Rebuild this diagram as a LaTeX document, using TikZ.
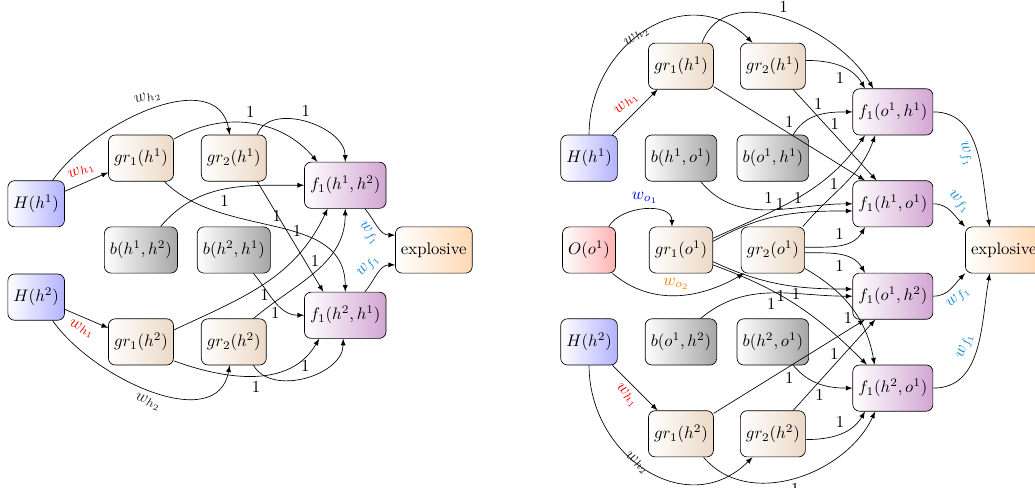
\documentclass[tikz,border=0pt]{standalone}
\usetikzlibrary{arrows}
\tikzset{
	unit/.style    = {shape=rectangle, rounded corners,
		draw, anchor=center,
		minimum height=0.97cm, inner sep=0.3333em,
		left color=white},
	human/.style   = {unit, right color=blue!30},
	object/.style  = {unit, right color=red!30},
	grasp/.style   = {unit, right color=brown!30},
	pair/.style    = {unit, right color=black!35},
	feature/.style = {unit, right color=violet!35},
	goal/.style    = {unit, right color=orange!30},
	link/.style    = {-latex},
	weight/.style  = {sloped}
}
\colorlet{wfcol}{cyan!70!blue}
\colorlet{whcol}{black!85}

\begin{document}
\begin{tikzpicture}
	\useasboundingbox (0,0) rectangle (21.735,-10.227);
	% left graph
	\node [human] at (0.76,-4.28) (lH1) {$H(h^1)$};
	\node [human] at (0.76,-6.24) (lH2) {$H(h^2)$};
	\node [grasp] at (2.96,-3.32) (lgr1h1) {$gr_1(h^1)$};
	\node [grasp] at (4.91,-3.32) (lgr2h1) {$gr_2(h^1)$};
	\node [pair] at (2.96,-5.25) (lbh1h2) {$b(h^1,h^2)$};
	\node [pair] at (4.91,-5.25) (lbh2h1) {$b(h^2,h^1)$};
	\node [grasp] at (2.96,-7.18) (lgr1h2) {$gr_1(h^2)$};
	\node [grasp] at (4.91,-7.18) (lgr2h2) {$gr_2(h^2)$};
	\node [feature] at (7.25,-3.89) (lfh1h2) {$f_1(h^1,h^2)$};
	\node [feature] at (7.25,-6.62) (lfh2h1) {$f_1(h^2,h^1)$};
	\node [goal] at (9.11,-5.25) (lexpl) {explosive};

	\draw[link] (lH1) -- node[weight, above, red] {$w_{h_1}$} (lgr1h1);
	\draw[link] (lH1) to[out=55, in=100] node[weight, above, whcol] {$w_{h_2}$} (lgr2h1);
	\draw[link] (lH2) -- node[weight, below, red] {$w_{h_1}$} (lgr1h2);
	\draw[link] (lH2) to[out=-55, in=-100] node[weight, below, whcol] {$w_{h_2}$} (lgr2h2);

	\draw[link] (lgr1h1.30) to[out=30, in=130] node[above] {1} (lfh1h2.140);
	\draw[link] (lgr2h1.45) to[out=70, in=90] node[above] {1} (lfh1h2.north);
	\draw[link] (lbh1h2.50) to[out=50, in=180] node[below] {1} (lfh1h2.west);
	\draw[link] (lgr1h2.20) to[out=25, in=-115] node[below] {1} (lfh1h2.-127);
	\draw[link] (lgr2h2.50) to[out=40, in=-90] node[pos=0.6, left] {1} (lfh1h2.south);

	\draw[link] (lgr1h1.-45) to[out=-45, in=90] node[above] {1} (lfh2h1.north);
	\draw[link] (lgr2h1.-45) -- node[pos=0.45, right] {1} (lfh2h1.133);
	\draw[link] (lbh2h1.-50) to[out=-50, in=180] node[below] {1} (lfh2h1.west);
	\draw[link] (lgr1h2.-30) to[out=-20, in=-120] node[below] {1} (lfh2h1.-138);
	\draw[link] (lgr2h2.-50) to[out=-60, in=-90] node[above] {1} (lfh2h1.-95);

	\draw[link] (lfh1h2.-50) to[out=-50, in=180] node[weight, below, wfcol] {$w_{f_1}$} (lexpl.159);
	\draw[link] (lfh2h1.50) to[out=50, in=180] node[weight, above, wfcol] {$w_{f_1}$} (lexpl.201);

	% right graph
	\node [human] at (12.37,-3.32) (rH1) {$H(h^1)$};
	\node [object] at (12.37,-5.25) (rO1) {$O(o^1)$};
	\node [human] at (12.37,-7.18) (rH2) {$H(h^2)$};
	\node [grasp] at (14.30,-1.39) (rgr1h1) {$gr_1(h^1)$};
	\node [grasp] at (16.23,-1.39) (rgr2h1) {$gr_2(h^1)$};
	\node [pair] at (14.30,-3.32) (rbh1o1) {$b(h^1,o^1)$};
	\node [pair] at (16.23,-3.32) (rbo1h1) {$b(o^1,h^1)$};
	\node [grasp] at (14.30,-5.25) (rgr1o1) {$gr_1(o^1)$};
	\node [grasp] at (16.23,-5.25) (rgr2o1) {$gr_2(o^1)$};
	\node [pair] at (14.30,-7.18) (rbo1h2) {$b(o^1,h^2)$};
	\node [pair] at (16.23,-7.18) (rbh2o1) {$b(h^2,o^1)$};
	\node [grasp] at (14.30,-9.11) (rgr1h2) {$gr_1(h^2)$};
	\node [grasp] at (16.23,-9.11) (rgr2h2) {$gr_2(h^2)$};
	\node [feature] at (18.75,-2.35) (rfo1h1) {$f_1(o^1,h^1)$};
	\node [feature] at (18.75,-4.28) (rfh1o1) {$f_1(h^1,o^1)$};
	\node [feature] at (18.75,-6.22) (rfo1h2) {$f_1(o^1,h^2)$};
	\node [feature] at (18.75,-8.15) (rfh2o1) {$f_1(h^2,o^1)$};
	\node [goal] at (21.08,-5.25) (rexpl) {explosive};

	\draw[link] (rH1) -- node[weight, above, red] {$w_{h_1}$} (rgr1h1);
	\draw[link] (rH1.north) to[out=90, in=135, looseness=1.25] node[weight, pos=0.45, whcol] {$w_{h_2}$} (rgr2h1.131);
	\draw[link] (rO1.50) to[out=60, in=90] node[above, blue] {$w_{o_1}$} (rgr1o1.111);
	\draw[link] (rO1.-45) to[out=-40, in=-150] node[above, orange] {$w_{o_2}$} (rgr2o1.-141);
	\draw[link] (rH2) -- node[weight, below, red] {$w_{h_1}$} (rgr1h2);
	\draw[link] (rH2.south) to[out=-90, in=-135, looseness=1.25] node[weight, pos=0.45, whcol] {$w_{h_2}$} (rgr2h2.-131);

	\draw[link] (rgr1h1.48) to[out=70, in=120] node[above] {1} (rfo1h1.130);
	\draw[link] (rgr2h1.10) to[out=0, in=120] node[below] {1} (rfo1h1.140);
	\draw[link] (rbo1h1.49) to[out=60, in=180] node[above] {1} (rfo1h1.west);
	\draw[link] (rgr1o1.20) to[out=25, in=-125] node {1} (rfo1h1.-140);
	\draw[link] (rgr2o1.38) to[out=50, in=-110] node[left] {1} (rfo1h1.-127);

	\draw[link] (rgr1h1.-32) -- node[above] {1} (rfh1o1.140);
	\draw[link] (rgr2h1.-49) -- node[above] {1} (rfh1o1.125);
	\draw[link] (rbh1o1.-50) to[out=-50, in=180] node[above] {1} (rfh1o1.west);
	\draw[link] (rgr1o1.15) to[out=30, in=180] node[above] {1} (rfh1o1.190);
	\draw[link] (rgr2o1.5) to[out=0, in=-120] node[above] {1} (rfh1o1.-140);

	\draw[link] (rgr1o1.-20) to[out=-25, in=180] node[below] {1} (rfo1h2.170);
	\draw[link] (rgr2o1.-5) to[out=0, in=120] node[below] {1} (rfo1h2.140);
	\draw[link] (rbo1h2.50) to[out=40, in=180] node[below] {1} (rfo1h2.west);
	\draw[link] (rgr1h2.32) -- node[below] {1} (rfo1h2.-140);
	\draw[link] (rgr2h2.49) -- node[above] {1} (rfo1h2.-127);

	\draw[link] (rgr1o1.-25) to[out=-20, in=135] node[above] {1} (rfh2o1.138);
	\draw[link] (rgr2o1.-30) to[out=-30, in=100] node[pos=0.6, left] {1} (rfh2o1.128);
	\draw[link] (rbh2o1.-49) to[out=-50, in=180] node[below] {1} (rfh2o1.west);
	\draw[link] (rgr2h2.-10) to[out=0, in=-120] node[above] {1} (rfh2o1.-140);
	\draw[link] (rgr1h2.-46) to[out=-50, in=-115] node[below] {1} (rfh2o1.-127);

	\draw[link] (rfo1h1.east) to[out=0, in=100] node[weight, below, wfcol] {$w_{f_1}$} (rexpl.121);
	\draw[link] (rfh1o1.east) to[out=0, in=135] node[weight, above, wfcol] {$w_{f_1}$} (rexpl.north west);
	\draw[link] (rfo1h2.east) to[out=0, in=-135] node[weight, below, wfcol] {$w_{f_1}$} (rexpl.south west);
	\draw[link] (rfh2o1.east) to[out=0, in=-100] node[weight, above, wfcol] {$w_{f_1}$} (rexpl.-121);
\end{tikzpicture}
\end{document}
